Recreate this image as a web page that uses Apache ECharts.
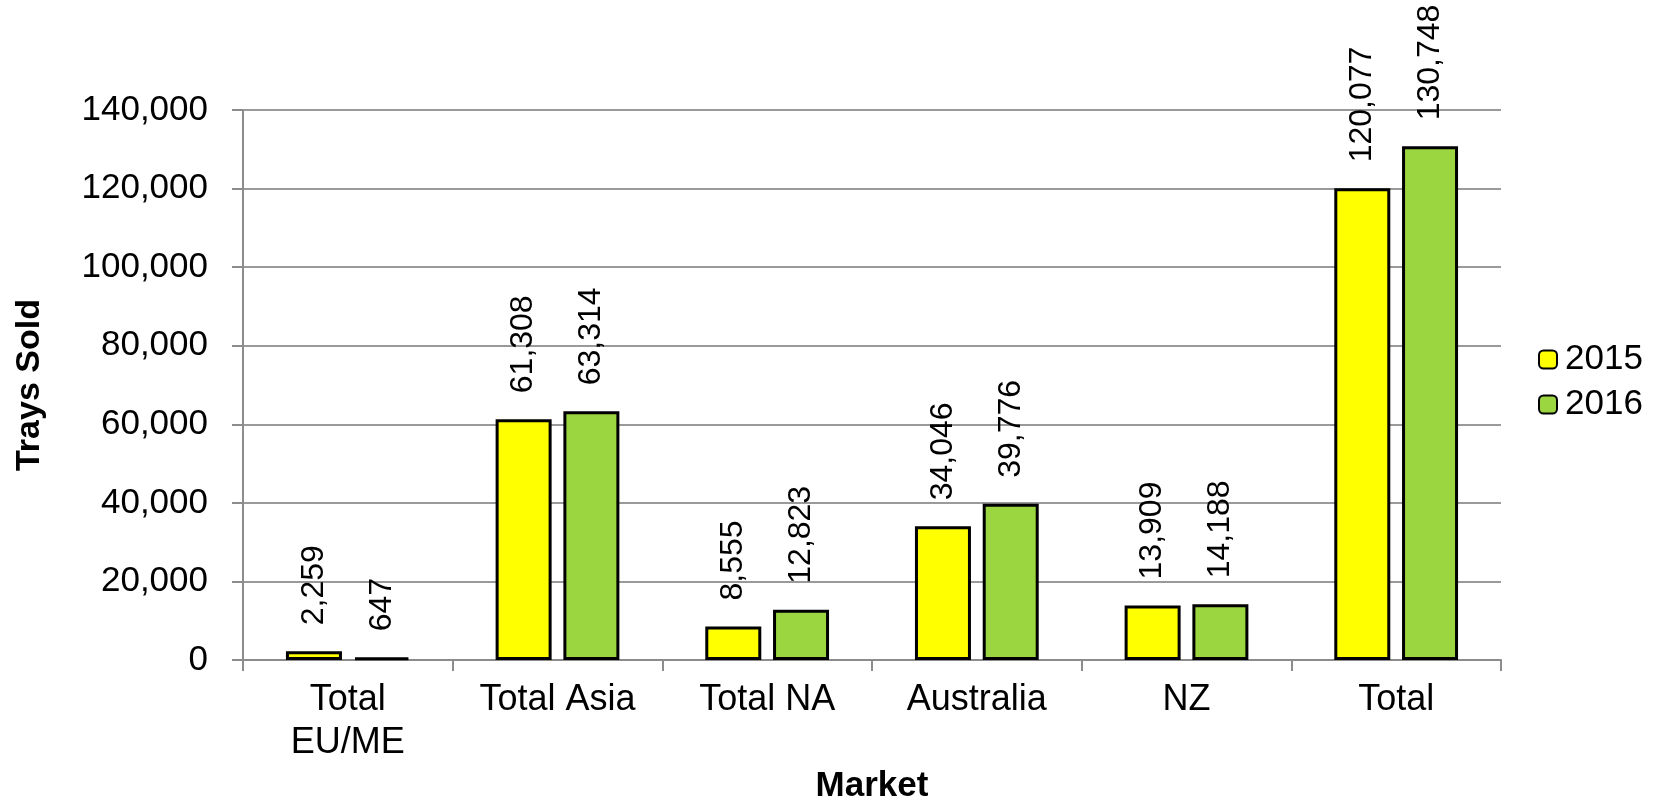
<!DOCTYPE html>
<html>
<head>
<meta charset="utf-8">
<script src="https://cdn.jsdelivr.net/npm/echarts@6/dist/echarts.min.js"></script>
<style>
  html, body { margin: 0; padding: 0; background: #fff; }
  #main { width: 1657px; height: 809px; }
</style>
</head>
<body>
<div id="main"></div>
<script>
// 数据
var markets = ["Total\nEU/ME", "Total Asia", "Total NA", "Australia", "NZ", "Total"];
var sold2015 = [2259, 61308, 8555, 34046, 13909, 120077];
var sold2016 = [647, 63314, 12823, 39776, 14188, 130748];
var yTicks = { min: 0, max: 140000, step: 20000 };

var FONT = "'Liberation Sans', Arial, sans-serif";

function fmt(v) {
  return Number(v).toLocaleString("en-US");
}

// 柱子上的竖排数值标签
var barLabel = {
  show: true,
  position: "top",
  distance: 26,
  rotate: 90,
  align: "left",
  verticalAlign: "middle",
  color: "#000",
  fontFamily: FONT,
  fontSize: 32,
  formatter: function (p) { return fmt(p.value); }
};

var myChart = echarts.init(document.getElementById("main"));

var option = {
  backgroundColor: "#fff",
  animation: false,
  grid: {
    left: 243,
    right: 156,
    top: 110,
    bottom: 129
  },
  legend: {
    orient: "vertical",
    left: 1533,
    top: 337,
    itemWidth: 18,
    itemHeight: 18,
    itemGap: 10,
    textStyle: { fontFamily: FONT, fontSize: 35, color: "#000", padding: [0, 0, 0, 3] },
    data: ["2015", "2016"]
  },
  xAxis: {
    type: "category",
    data: markets,
    name: "Market",
    nameLocation: "middle",
    nameGap: 90,
    nameTextStyle: { fontFamily: FONT, fontSize: 35, fontWeight: "bold", color: "#000" },
    axisLine: { lineStyle: { color: "#8c8c8c", width: 2 } },
    axisTick: { show: true, length: 11, lineStyle: { color: "#8c8c8c", width: 2 } },
    axisLabel: {
      margin: 18,
      fontFamily: FONT,
      fontSize: 36,
      lineHeight: 43,
      color: "#000"
    }
  },
  yAxis: {
    type: "value",
    min: yTicks.min,
    max: yTicks.max,
    interval: yTicks.step,
    name: "Trays Sold",
    nameLocation: "middle",
    nameRotate: 90,
    nameGap: 196,
    nameTextStyle: { fontFamily: FONT, fontSize: 34, fontWeight: "bold", color: "#000" },
    axisLine: { show: true, lineStyle: { color: "#8c8c8c", width: 2 } },
    axisTick: { show: true, length: 11, lineStyle: { color: "#8c8c8c", width: 2 } },
    splitLine: { lineStyle: { color: "#9a9a9a", width: 2 } },
    axisLabel: {
      margin: 35,
      fontFamily: FONT,
      fontSize: 35,
      color: "#000",
      formatter: function (v) { return fmt(v); }
    }
  },
  series: [
    {
      name: "2015",
      type: "bar",
      data: sold2015,
      barWidth: 56,
      barGap: "21%",
      itemStyle: { color: "#ffff00", borderColor: "#000", borderWidth: 3 },
      label: barLabel
    },
    {
      name: "2016",
      type: "bar",
      data: sold2016,
      barWidth: 56,
      itemStyle: { color: "#9bd53f", borderColor: "#000", borderWidth: 3 },
      label: barLabel
    }
  ]
};

myChart.setOption(option);
</script>
</body>
</html>
